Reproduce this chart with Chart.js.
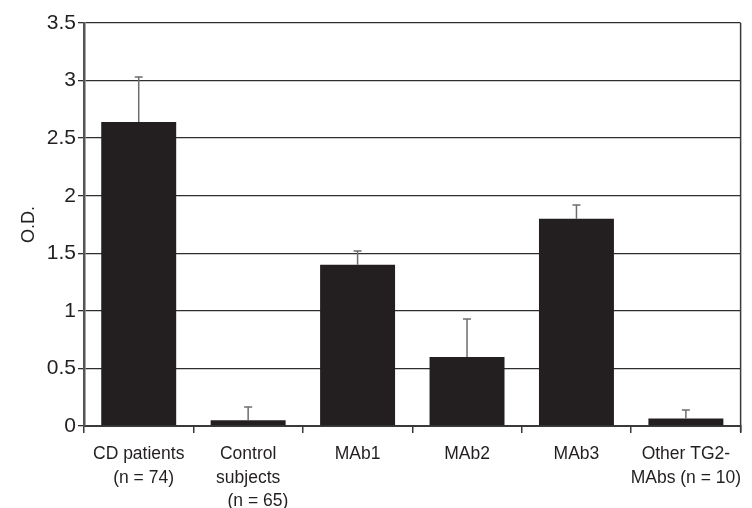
<!DOCTYPE html>
<html>
<head>
<meta charset="utf-8">
<script src="https://cdn.jsdelivr.net/npm/chart.js@4/dist/chart.umd.min.js"></script>
<style>
  html, body { margin: 0; padding: 0; background: #fff; }
  #wrap { width: 752px; height: 508px; }
</style>
</head>
<body>
<div id="wrap"><canvas id="odChart" width="752" height="508"></canvas></div>
<script>
// categories, values
const categories = [
    ['CD patients', '  (n = 74)'],
    ['Control', 'subjects', '    (n = 65)'],
    'MAb1',
    'MAb2',
    'MAb3',
    ['Other TG2-', 'MAbs (n = 10)']
];
const odValues = [2.64, 0.05, 1.40, 0.60, 1.80, 0.065];
const odErrors = [0.39, 0.115, 0.12, 0.33, 0.12, 0.075];
const yMin = 0;
const yMax = 3.5;
const yStep = 0.5;

const ink = '#231f20';

// error bars (upper only) + right frame
const errorBars = {
    id: 'errorBars',
    afterDatasetsDraw(chart) {
        const ctx = chart.ctx;
        const meta = chart.getDatasetMeta(0);
        const y = chart.scales.y;
        ctx.save();
        ctx.strokeStyle = '#6d6d6d';
        ctx.lineWidth = 1.5;
        meta.data.forEach((bar, i) => {
            const top = y.getPixelForValue(odValues[i] + odErrors[i]);
            const base = y.getPixelForValue(odValues[i]);
            ctx.beginPath();
            ctx.moveTo(bar.x, base);
            ctx.lineTo(bar.x, top);
            ctx.moveTo(bar.x - 4, top);
            ctx.lineTo(bar.x + 4, top);
            ctx.stroke();
        });
        const a = chart.chartArea;
        ctx.strokeStyle = '#3a3a3a';
        ctx.lineWidth = 1.5;
        ctx.beginPath();
        ctx.moveTo(a.right, a.top);
        ctx.lineTo(a.right, a.bottom + 6);
        ctx.stroke();
        ctx.restore();
    }
};

const ctx = document.getElementById('odChart').getContext('2d');
new Chart(ctx, {
    type: 'bar',
    data: {
        labels: categories,
        datasets: [{
            data: odValues,
            backgroundColor: ink,
            borderWidth: 0,
            categoryPercentage: 1,
            barPercentage: 0.685
        }]
    },
    options: {
        responsive: false,
        animation: false,
        layout: { padding: { left: 18, right: 11, top: 23, bottom: 0 } },
        plugins: {
            legend: { display: false },
            tooltip: { enabled: false }
        },
        scales: {
            x: {
                grid: {
                    offset: true,
                    drawOnChartArea: false,
                    tickLength: 7,
                    color: '#3a3a3a',
                    lineWidth: 1.5
                },
                border: { color: '#3a3a3a', width: 2 },
                ticks: {
                    color: ink,
                    maxRotation: 0,
                    autoSkip: false,
                    padding: 10,
                    font: { family: 'Liberation Sans', size: 17.5, lineHeight: 1.33 }
                },
                afterFit(scale) { scale.height = 82; }
            },
            y: {
                min: yMin,
                max: yMax,
                ticks: {
                    stepSize: yStep,
                    color: ink,
                    padding: 2,
                    callback: (v) => String(v),
                    font: { family: 'Liberation Sans', size: 21 }
                },
                grid: {
                    color: '#2e2e2e',
                    lineWidth: 1.3,
                    tickLength: 6
                },
                border: { color: '#555', width: 2.5 },
                title: {
                    display: true,
                    text: 'O.D.',
                    color: ink,
                    padding: { top: 0, bottom: 8 },
                    font: { family: 'Liberation Sans', size: 18 }
                },
                afterFit(scale) { scale.width = 66; }
            }
        }
    },
    plugins: [errorBars]
});
</script>
</body>
</html>
